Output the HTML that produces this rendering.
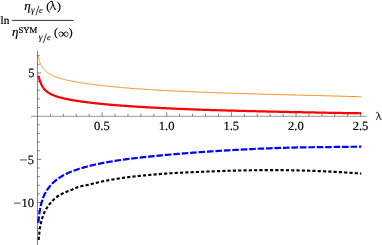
<!DOCTYPE html>
<html><head><meta charset="utf-8"><title>plot</title>
<style>
html,body{margin:0;padding:0;background:#fff;}
body{width:382px;height:245px;overflow:hidden;font-family:"Liberation Serif",serif;}
svg{display:block;position:absolute;left:0;top:0;will-change:transform;}
text{font-family:"Liberation Serif",serif;fill:#000;text-rendering:geometricPrecision;}
.it{font-style:italic;}
</style></head><body>
<svg width="382" height="245" viewBox="0 0 382 245">
<rect width="382" height="245" fill="#fff"/>
<g fill="none">
<path d="M38.15 56.27 L38.25 56.74 L38.35 57.23 L38.47 57.71 L38.58 58.21 L38.71 58.70 L38.84 59.20 L38.98 59.69 L39.13 60.19 L39.28 60.68 L39.44 61.16 L39.60 61.64 L39.77 62.11 L39.95 62.58 L40.14 63.04 L40.33 63.49 L40.53 63.93 L40.73 64.37 L40.94 64.80 L41.16 65.22 L41.38 65.63 L41.61 66.04 L41.85 66.43 L42.10 66.82 L42.35 67.20 L42.60 67.57 L42.87 67.94 L43.14 68.29 L43.42 68.64 L43.70 68.99 L43.99 69.32 L44.29 69.65 L44.59 69.97 L44.90 70.29 L45.22 70.60 L45.54 70.90 L45.87 71.20 L46.21 71.49 L46.55 71.77 L46.90 72.05 L47.25 72.32 L47.62 72.59 L47.99 72.85 L48.36 73.11 L48.75 73.36 L49.13 73.61 L49.53 73.86 L49.93 74.10 L50.34 74.33 L50.76 74.56 L51.18 74.79 L51.61 75.01 L52.04 75.23 L52.48 75.44 L52.93 75.65 L53.39 75.86 L53.85 76.07 L54.32 76.27 L54.79 76.46 L55.27 76.66 L55.76 76.85 L56.26 77.04 L56.76 77.22 L57.26 77.41 L57.78 77.59 L58.30 77.76 L58.83 77.94 L59.36 78.11 L59.90 78.28 L60.45 78.45 L61.00 78.61 L61.56 78.77 L62.13 78.94 L62.70 79.09 L63.28 79.25 L63.87 79.41 L64.46 79.56 L65.06 79.71 L65.67 79.86 L66.28 80.00 L66.90 80.15 L67.53 80.29 L68.16 80.44 L68.80 80.58 L69.45 80.72 L70.10 80.85 L70.76 80.99 L71.42 81.13 L72.10 81.26 L72.78 81.40 L73.46 81.53 L74.15 81.66 L74.85 81.79 L75.56 81.92 L76.27 82.05 L76.99 82.17 L77.71 82.30 L78.44 82.42 L79.18 82.54 L79.93 82.67 L80.68 82.79 L81.44 82.91 L82.20 83.03 L82.97 83.15 L83.75 83.26 L84.53 83.38 L85.32 83.50 L86.12 83.61 L86.93 83.72 L87.74 83.84 L88.55 83.95 L89.38 84.06 L90.21 84.17 L91.05 84.28 L91.89 84.39 L92.74 84.50 L93.60 84.61 L94.46 84.72 L95.33 84.83 L96.21 84.93 L97.09 85.04 L97.98 85.14 L98.88 85.25 L99.78 85.35 L100.69 85.46 L101.60 85.56 L102.53 85.66 L103.46 85.76 L104.39 85.86 L105.33 85.96 L106.28 86.06 L107.24 86.16 L108.20 86.26 L109.17 86.36 L110.15 86.46 L111.13 86.55 L112.12 86.65 L113.11 86.75 L114.11 86.84 L115.12 86.94 L116.14 87.03 L117.16 87.13 L118.19 87.22 L119.22 87.32 L120.26 87.41 L121.31 87.50 L122.36 87.59 L123.42 87.68 L124.49 87.78 L125.57 87.87 L126.65 87.96 L127.73 88.05 L128.83 88.14 L129.93 88.23 L131.04 88.32 L132.15 88.40 L133.27 88.49 L134.40 88.58 L135.53 88.66 L136.67 88.74 L137.82 88.82 L138.97 88.90 L140.13 88.98 L141.30 89.06 L142.47 89.14 L143.65 89.21 L144.84 89.29 L146.03 89.37 L147.23 89.44 L148.43 89.52 L149.65 89.59 L150.86 89.67 L152.09 89.74 L153.32 89.82 L154.56 89.89 L155.81 89.96 L157.06 90.04 L158.32 90.11 L159.58 90.18 L160.86 90.25 L162.13 90.32 L163.42 90.39 L164.71 90.46 L166.01 90.53 L167.31 90.60 L168.62 90.67 L169.94 90.74 L171.27 90.80 L172.60 90.87 L173.94 90.94 L175.28 91.00 L176.63 91.07 L177.99 91.13 L179.35 91.20 L180.72 91.26 L182.10 91.33 L183.48 91.39 L184.87 91.45 L186.27 91.51 L187.67 91.58 L189.08 91.64 L190.50 91.70 L191.93 91.76 L193.35 91.82 L194.79 91.88 L196.23 91.94 L197.68 92.00 L199.14 92.06 L200.60 92.12 L202.07 92.18 L203.55 92.23 L205.03 92.29 L206.52 92.35 L208.02 92.41 L209.52 92.47 L211.03 92.53 L212.54 92.58 L214.07 92.64 L215.59 92.70 L217.13 92.75 L218.67 92.81 L220.22 92.86 L221.78 92.92 L223.34 92.97 L224.91 93.02 L226.48 93.08 L228.06 93.13 L229.65 93.18 L231.24 93.24 L232.85 93.29 L234.45 93.34 L236.07 93.39 L237.69 93.44 L239.32 93.49 L240.95 93.54 L242.59 93.59 L244.24 93.64 L245.89 93.69 L247.55 93.74 L249.22 93.79 L250.89 93.84 L252.57 93.89 L254.26 93.94 L255.95 93.98 L257.65 94.03 L259.36 94.08 L261.07 94.13 L262.79 94.17 L264.52 94.22 L266.25 94.27 L267.99 94.32 L269.74 94.36 L271.49 94.41 L273.25 94.46 L275.02 94.50 L276.79 94.55 L278.57 94.59 L280.35 94.64 L282.15 94.69 L283.94 94.73 L285.75 94.78 L287.56 94.82 L289.38 94.87 L291.21 94.92 L293.04 94.96 L294.88 95.01 L296.72 95.05 L298.57 95.10 L300.43 95.15 L302.30 95.19 L304.17 95.24 L306.04 95.29 L307.93 95.34 L309.82 95.38 L311.72 95.43 L313.62 95.48 L315.53 95.53 L317.45 95.58 L319.37 95.62 L321.30 95.67 L323.24 95.72 L325.19 95.77 L327.14 95.82 L329.09 95.88 L331.06 95.93 L333.03 95.98 L335.00 96.03 L336.99 96.08 L338.98 96.14 L340.97 96.19 L342.98 96.25 L344.99 96.30 L347.00 96.36 L349.02 96.42 L351.05 96.48 L353.09 96.53 L355.13 96.59 L357.18 96.65 L359.24 96.72 L361.30 96.78" stroke="#ff8306" stroke-width="0.92"/>
<path d="M38.55 75.85 L38.67 76.34 L38.80 76.85 L38.93 77.38 L39.08 77.93 L39.22 78.47 L39.38 79.02 L39.54 79.58 L39.71 80.13 L39.88 80.67 L40.06 81.21 L40.25 81.74 L40.44 82.27 L40.64 82.78 L40.84 83.29 L41.05 83.78 L41.27 84.26 L41.50 84.73 L41.73 85.19 L41.97 85.64 L42.21 86.08 L42.46 86.50 L42.72 86.91 L42.98 87.32 L43.25 87.71 L43.53 88.09 L43.81 88.46 L44.10 88.82 L44.40 89.17 L44.70 89.51 L45.01 89.84 L45.32 90.16 L45.64 90.47 L45.97 90.77 L46.30 91.07 L46.64 91.35 L46.99 91.63 L47.34 91.91 L47.70 92.17 L48.07 92.43 L48.44 92.68 L48.82 92.92 L49.21 93.16 L49.60 93.40 L50.00 93.62 L50.40 93.84 L50.81 94.06 L51.23 94.27 L51.66 94.48 L52.09 94.68 L52.52 94.88 L52.97 95.07 L53.42 95.26 L53.87 95.45 L54.33 95.63 L54.80 95.81 L55.28 95.98 L55.76 96.15 L56.25 96.32 L56.74 96.49 L57.25 96.65 L57.75 96.81 L58.27 96.96 L58.79 97.12 L59.31 97.27 L59.85 97.42 L60.39 97.57 L60.93 97.71 L61.49 97.85 L62.04 98.00 L62.61 98.13 L63.18 98.27 L63.76 98.41 L64.34 98.54 L64.94 98.67 L65.53 98.80 L66.14 98.93 L66.75 99.06 L67.36 99.19 L67.99 99.31 L68.62 99.43 L69.25 99.56 L69.90 99.68 L70.55 99.80 L71.20 99.92 L71.86 100.03 L72.53 100.15 L73.21 100.27 L73.89 100.38 L74.57 100.49 L75.27 100.61 L75.97 100.72 L76.67 100.83 L77.39 100.94 L78.11 101.05 L78.83 101.16 L79.57 101.26 L80.30 101.37 L81.05 101.48 L81.80 101.58 L82.56 101.69 L83.32 101.79 L84.10 101.89 L84.87 102.00 L85.66 102.10 L86.45 102.20 L87.24 102.30 L88.05 102.40 L88.86 102.50 L89.67 102.60 L90.50 102.69 L91.32 102.79 L92.16 102.89 L93.00 102.98 L93.85 103.08 L94.70 103.17 L95.56 103.27 L96.43 103.36 L97.31 103.45 L98.19 103.55 L99.07 103.64 L99.97 103.73 L100.87 103.82 L101.77 103.91 L102.68 104.00 L103.60 104.09 L104.53 104.18 L105.46 104.26 L106.40 104.35 L107.34 104.44 L108.29 104.52 L109.25 104.61 L110.21 104.70 L111.18 104.78 L112.16 104.86 L113.14 104.95 L114.13 105.03 L115.13 105.11 L116.13 105.19 L117.14 105.28 L118.16 105.36 L119.18 105.44 L120.21 105.52 L121.24 105.59 L122.28 105.67 L123.33 105.75 L124.38 105.83 L125.44 105.90 L126.51 105.98 L127.58 106.06 L128.66 106.13 L129.75 106.21 L130.84 106.28 L131.94 106.35 L133.04 106.43 L134.15 106.50 L135.27 106.57 L136.40 106.64 L137.53 106.71 L138.66 106.78 L139.81 106.85 L140.96 106.92 L142.12 106.99 L143.28 107.06 L144.45 107.13 L145.62 107.19 L146.81 107.26 L147.99 107.33 L149.19 107.39 L150.39 107.46 L151.60 107.53 L152.81 107.59 L154.03 107.66 L155.26 107.72 L156.49 107.79 L157.73 107.85 L158.98 107.92 L160.23 107.98 L161.49 108.05 L162.76 108.11 L164.03 108.17 L165.31 108.23 L166.60 108.29 L167.89 108.36 L169.18 108.42 L170.49 108.48 L171.80 108.54 L173.12 108.60 L174.44 108.65 L175.77 108.71 L177.11 108.77 L178.45 108.83 L179.80 108.89 L181.15 108.94 L182.52 109.00 L183.89 109.06 L185.26 109.11 L186.64 109.17 L188.03 109.22 L189.42 109.28 L190.82 109.33 L192.23 109.39 L193.65 109.44 L195.07 109.49 L196.49 109.55 L197.92 109.60 L199.36 109.65 L200.81 109.70 L202.26 109.75 L203.72 109.80 L205.19 109.84 L206.66 109.89 L208.13 109.94 L209.62 109.98 L211.11 110.03 L212.61 110.07 L214.11 110.12 L215.62 110.17 L217.14 110.21 L218.66 110.25 L220.19 110.30 L221.72 110.34 L223.27 110.39 L224.81 110.43 L226.37 110.47 L227.93 110.52 L229.50 110.56 L231.07 110.60 L232.65 110.65 L234.24 110.69 L235.83 110.73 L237.43 110.77 L239.04 110.82 L240.65 110.86 L242.27 110.90 L243.90 110.94 L245.53 110.98 L247.17 111.02 L248.81 111.06 L250.46 111.10 L252.12 111.15 L253.79 111.19 L255.46 111.23 L257.13 111.27 L258.82 111.31 L260.51 111.35 L262.20 111.39 L263.91 111.43 L265.61 111.47 L267.33 111.51 L269.05 111.54 L270.78 111.58 L272.52 111.62 L274.26 111.66 L276.00 111.70 L277.76 111.74 L279.52 111.78 L281.29 111.82 L283.06 111.86 L284.84 111.89 L286.63 111.93 L288.42 111.97 L290.22 112.01 L292.02 112.05 L293.83 112.09 L295.65 112.12 L297.48 112.16 L299.31 112.20 L301.15 112.24 L302.99 112.27 L304.84 112.31 L306.70 112.35 L308.56 112.38 L310.43 112.42 L312.31 112.46 L314.19 112.49 L316.08 112.53 L317.97 112.57 L319.88 112.60 L321.78 112.64 L323.70 112.67 L325.62 112.71 L327.55 112.75 L329.48 112.78 L331.42 112.81 L333.37 112.85 L335.32 112.88 L337.28 112.91 L339.25 112.94 L341.22 112.98 L343.20 113.01 L345.19 113.04 L347.18 113.07 L349.18 113.10 L351.18 113.13 L353.19 113.16 L355.21 113.19 L357.23 113.22 L359.26 113.25 L361.30 113.28" stroke="#ff0000" stroke-width="2.25" stroke-linejoin="round"/>
<path d="M38.36 222.86 L38.47 221.51 L38.59 220.19 L38.71 218.91 L38.84 217.67 L38.98 216.46 L39.12 215.28 L39.27 214.14 L39.43 213.03 L39.59 211.95 L39.76 210.90 L39.94 209.88 L40.12 208.88 L40.31 207.91 L40.51 206.96 L40.71 206.03 L40.92 205.13 L41.14 204.25 L41.36 203.38 L41.59 202.54 L41.82 201.72 L42.07 200.92 L42.31 200.13 L42.57 199.36 L42.83 198.61 L43.10 197.87 L43.37 197.15 L43.65 196.44 L43.94 195.75 L44.23 195.10 L44.53 194.48 L44.84 193.87 L45.15 193.27 L45.47 192.69 L45.80 192.12 L46.13 191.56 L46.47 191.02 L46.82 190.48 L47.17 189.96 L47.53 189.45 L47.89 188.95 L48.26 188.43 L48.64 187.90 L49.03 187.38 L49.42 186.87 L49.82 186.37 L50.22 185.87 L50.63 185.39 L51.05 184.91 L51.47 184.44 L51.90 183.98 L52.34 183.53 L52.78 183.08 L53.23 182.65 L53.69 182.22 L54.15 181.79 L54.62 181.38 L55.10 180.97 L55.58 180.56 L56.07 180.17 L56.56 179.78 L57.06 179.39 L57.57 179.01 L58.09 178.64 L58.61 178.28 L59.13 177.91 L59.67 177.56 L60.21 177.21 L60.76 176.86 L61.31 176.53 L61.87 176.19 L62.44 175.86 L63.01 175.54 L63.59 175.22 L64.18 174.90 L64.77 174.59 L65.37 174.29 L65.97 173.98 L66.59 173.69 L67.20 173.39 L67.83 173.11 L68.46 172.82 L69.10 172.54 L69.74 172.26 L70.40 171.99 L71.05 171.72 L71.72 171.46 L72.39 171.19 L73.06 170.94 L73.75 170.68 L74.44 170.43 L75.14 170.18 L75.84 169.94 L76.55 169.69 L77.26 169.45 L77.99 169.22 L78.72 168.99 L79.45 168.76 L80.19 168.53 L80.94 168.29 L81.70 168.06 L82.46 167.84 L83.23 167.61 L84.00 167.39 L84.78 167.17 L85.57 166.95 L86.36 166.73 L87.17 166.52 L87.97 166.31 L88.79 166.10 L89.61 165.90 L90.43 165.69 L91.27 165.49 L92.11 165.29 L92.95 165.09 L93.80 164.89 L94.66 164.70 L95.53 164.51 L96.40 164.31 L97.28 164.13 L98.16 163.94 L99.06 163.75 L99.95 163.57 L100.86 163.38 L101.77 163.20 L102.69 163.02 L103.61 162.85 L104.54 162.67 L105.48 162.49 L106.42 162.32 L107.37 162.15 L108.33 161.98 L109.29 161.81 L110.26 161.64 L111.24 161.47 L112.22 161.30 L113.21 161.14 L114.21 160.98 L115.21 160.82 L116.22 160.66 L117.23 160.51 L118.25 160.37 L119.28 160.22 L120.32 160.07 L121.36 159.92 L122.40 159.78 L123.46 159.64 L124.52 159.49 L125.59 159.35 L126.66 159.21 L127.74 159.07 L128.83 158.93 L129.92 158.79 L131.02 158.65 L132.13 158.52 L133.24 158.38 L134.36 158.25 L135.48 158.11 L136.61 157.98 L137.75 157.85 L138.90 157.71 L140.05 157.58 L141.21 157.45 L142.37 157.32 L143.54 157.19 L144.72 157.06 L145.91 156.94 L147.10 156.81 L148.29 156.68 L149.50 156.56 L150.71 156.43 L151.92 156.31 L153.15 156.18 L154.38 156.06 L155.61 155.93 L156.85 155.81 L158.10 155.69 L159.36 155.57 L160.62 155.45 L161.89 155.33 L163.16 155.21 L164.45 155.09 L165.73 154.97 L167.03 154.85 L168.33 154.73 L169.64 154.62 L170.95 154.50 L172.27 154.38 L173.60 154.27 L174.93 154.15 L176.27 154.04 L177.62 153.92 L178.97 153.81 L180.33 153.70 L181.70 153.58 L183.07 153.47 L184.45 153.36 L185.83 153.25 L187.23 153.14 L188.63 153.03 L190.03 152.92 L191.44 152.81 L192.86 152.70 L194.28 152.59 L195.72 152.49 L197.15 152.38 L198.60 152.27 L200.05 152.17 L201.50 152.06 L202.97 151.96 L204.44 151.85 L205.91 151.75 L207.40 151.65 L208.89 151.55 L210.38 151.45 L211.89 151.34 L213.39 151.24 L214.91 151.15 L216.43 151.05 L217.96 150.95 L219.50 150.85 L221.04 150.76 L222.59 150.66 L224.14 150.56 L225.70 150.47 L227.27 150.38 L228.84 150.28 L230.42 150.19 L232.01 150.10 L233.60 150.01 L235.20 149.92 L236.81 149.83 L238.42 149.75 L240.04 149.66 L241.67 149.57 L243.30 149.49 L244.94 149.40 L246.59 149.32 L248.24 149.24 L249.90 149.16 L251.56 149.08 L253.23 149.00 L254.91 148.92 L256.60 148.85 L258.29 148.77 L259.98 148.70 L261.69 148.63 L263.40 148.55 L265.12 148.48 L266.84 148.41 L268.57 148.35 L270.31 148.28 L272.05 148.22 L273.80 148.15 L275.55 148.09 L277.32 148.03 L279.09 147.97 L280.86 147.91 L282.64 147.85 L284.43 147.80 L286.23 147.75 L288.03 147.69 L289.84 147.64 L291.65 147.60 L293.47 147.55 L295.30 147.50 L297.13 147.46 L298.97 147.42 L300.82 147.38 L302.67 147.35 L304.53 147.32 L306.40 147.30 L308.27 147.27 L310.15 147.25 L312.04 147.23 L313.93 147.21 L315.83 147.19 L317.74 147.17 L319.65 147.16 L321.57 147.15 L323.49 147.14 L325.42 147.14 L327.36 147.11 L329.30 147.07 L331.26 147.03 L333.21 147.00 L335.18 146.97 L337.15 146.94 L339.12 146.91 L341.11 146.88 L343.10 146.86 L345.09 146.84 L347.10 146.81 L349.11 146.79 L351.12 146.77 L353.15 146.75 L355.17 146.74 L357.21 146.72 L359.25 146.71 L361.30 146.71" stroke="#0000ff" stroke-width="2.2" stroke-dasharray="6.6 1.85" stroke-linejoin="round"/>
<path d="M38.70 240.00 L38.74 239.11 L38.80 238.22 L38.87 237.33 L38.96 236.44 L39.05 235.55 L39.16 234.66 L39.26 233.78 L39.36 232.89 L39.45 232.00 L39.54 231.11 L39.64 230.22 L39.75 229.34 L39.88 228.45 L40.02 227.57 L40.18 226.69 L40.36 225.82 L40.55 224.94 L40.74 224.07 L40.95 223.20 L41.16 222.33 L41.37 221.47 L41.59 220.60 L41.82 219.74 L42.06 218.88 L42.31 218.02 L42.58 217.17 L42.86 216.32 L43.15 215.48 L43.47 214.64 L43.80 213.81 L44.15 212.99 L44.52 212.18 L44.91 211.37 L45.32 210.58 L45.75 209.79 L46.19 209.02 L46.65 208.25 L47.13 207.50 L47.62 206.75 L48.13 206.02 L48.66 205.29 L49.19 204.58 L49.75 203.87 L50.31 203.18 L50.89 202.50 L51.48 201.83 L52.09 201.18 L52.71 200.54 L53.35 199.91 L54.00 199.29 L54.66 198.70 L55.34 198.12 L56.04 197.55 L56.75 197.01 L57.47 196.49 L58.21 195.99 L58.97 195.51 L59.73 195.04 L60.51 194.60 L61.29 194.17 L62.09 193.76 L62.89 193.36 L63.69 192.98 L64.51 192.60 L65.32 192.25 L66.15 191.90 L66.98 191.57 L67.81 191.24 L68.64 190.93 L69.48 190.62 L70.31 190.30 L71.15 189.98 L71.98 189.65 L72.80 189.30 L73.63 188.94 L74.45 188.58 L75.26 188.22 L76.09 187.86 L76.91 187.52 L77.74 187.19 L78.58 186.89 L79.43 186.62 L80.28 186.39 L81.15 186.19 L82.02 186.01 L82.90 185.85 L83.79 185.70 L84.67 185.55 L85.55 185.40 L86.43 185.24 L87.31 185.06 L88.18 184.87 L89.06 184.67 L89.92 184.46 L90.79 184.25 L91.66 184.03 L92.52 183.80 L93.38 183.57 L94.25 183.35 L95.11 183.12 L95.98 182.90 L96.84 182.68 L97.71 182.47 L98.58 182.27 L99.45 182.07 L100.32 181.88 L101.20 181.68 L102.07 181.49 L102.95 181.31 L103.83 181.13 L104.71 180.96 L105.59 180.79 L106.47 180.62 L107.35 180.46 L108.23 180.30 L109.11 180.15 L110.00 179.99 L110.88 179.84 L111.76 179.68 L112.65 179.53 L113.53 179.38 L114.41 179.23 L115.29 179.08 L116.18 178.93 L117.06 178.78 L117.94 178.64 L118.83 178.49 L119.71 178.35 L120.60 178.21 L121.48 178.07 L122.37 177.94 L123.25 177.80 L124.14 177.67 L125.02 177.54 L125.91 177.43 L126.79 177.32 L127.68 177.21 L128.57 177.11 L129.45 177.00 L130.34 176.90 L131.23 176.79 L132.11 176.69 L133.00 176.59 L133.89 176.50 L134.78 176.40 L135.66 176.30 L136.55 176.21 L137.44 176.11 L138.33 176.02 L139.22 175.93 L140.10 175.84 L140.99 175.75 L141.88 175.66 L142.77 175.57 L143.66 175.48 L144.55 175.40 L145.44 175.31 L146.33 175.23 L147.21 175.14 L148.10 175.06 L148.99 174.98 L149.88 174.90 L150.77 174.82 L151.66 174.74 L152.55 174.66 L153.44 174.59 L154.33 174.51 L155.22 174.44 L156.11 174.36 L157.00 174.29 L157.89 174.22 L158.78 174.14 L159.67 174.07 L160.56 174.00 L161.45 173.93 L162.34 173.86 L163.23 173.79 L164.12 173.73 L165.01 173.66 L165.90 173.59 L166.79 173.53 L167.68 173.46 L168.57 173.40 L169.46 173.33 L170.36 173.28 L171.25 173.22 L172.14 173.17 L173.03 173.12 L173.92 173.07 L174.81 173.02 L175.70 172.98 L176.59 172.93 L177.48 172.88 L178.37 172.83 L179.27 172.79 L180.16 172.74 L181.05 172.70 L181.94 172.65 L182.83 172.61 L183.72 172.57 L184.61 172.53 L185.50 172.48 L186.40 172.44 L187.29 172.40 L188.18 172.36 L189.07 172.32 L189.96 172.28 L190.85 172.24 L191.74 172.21 L192.64 172.17 L193.53 172.13 L194.42 172.10 L195.31 172.06 L196.20 172.02 L197.10 171.99 L197.99 171.96 L198.88 171.92 L199.77 171.89 L200.66 171.85 L201.55 171.81 L202.45 171.76 L203.34 171.72 L204.23 171.68 L205.12 171.64 L206.01 171.60 L206.91 171.57 L207.80 171.53 L208.69 171.49 L209.58 171.45 L210.48 171.41 L211.37 171.38 L212.26 171.34 L213.15 171.31 L214.04 171.27 L214.94 171.24 L215.83 171.20 L216.72 171.17 L217.61 171.14 L218.51 171.11 L219.40 171.07 L220.29 171.04 L221.18 171.01 L222.08 170.98 L222.97 170.95 L223.86 170.92 L224.75 170.90 L225.65 170.87 L226.54 170.84 L227.43 170.81 L228.32 170.79 L229.22 170.76 L230.11 170.73 L231.00 170.71 L231.89 170.68 L232.79 170.66 L233.68 170.64 L234.57 170.61 L235.46 170.59 L236.36 170.57 L237.25 170.55 L238.14 170.53 L239.04 170.51 L239.93 170.49 L240.82 170.47 L241.71 170.45 L242.61 170.43 L243.50 170.41 L244.39 170.40 L245.29 170.38 L246.18 170.36 L247.07 170.35 L247.96 170.33 L248.86 170.32 L249.75 170.31 L250.64 170.29 L251.54 170.28 L252.43 170.27 L253.32 170.26 L254.21 170.24 L255.11 170.23 L256.00 170.22 L256.89 170.21 L257.79 170.21 L258.68 170.20 L259.57 170.19 L260.46 170.18 L261.36 170.18 L262.25 170.17 L263.14 170.16 L264.04 170.16 L264.93 170.15 L265.82 170.15 L266.72 170.15 L267.61 170.14 L268.50 170.14 L269.40 170.14 L270.29 170.14 L271.18 170.14 L272.07 170.14 L272.97 170.14 L273.86 170.14 L274.75 170.14 L275.65 170.15 L276.54 170.15 L277.43 170.15 L278.33 170.16 L279.22 170.16 L280.11 170.17 L281.00 170.17 L281.90 170.18 L282.79 170.19 L283.68 170.20 L284.58 170.21 L285.47 170.22 L286.36 170.22 L287.26 170.24 L288.15 170.25 L289.04 170.26 L289.93 170.27 L290.83 170.29 L291.72 170.30 L292.61 170.32 L293.51 170.33 L294.40 170.35 L295.29 170.37 L296.18 170.39 L297.08 170.41 L297.97 170.43 L298.86 170.45 L299.76 170.47 L300.65 170.49 L301.54 170.51 L302.43 170.53 L303.33 170.56 L304.22 170.58 L305.11 170.61 L306.01 170.63 L306.90 170.66 L307.79 170.69 L308.68 170.71 L309.58 170.74 L310.47 170.77 L311.36 170.80 L312.25 170.83 L313.15 170.86 L314.04 170.89 L314.93 170.93 L315.83 170.96 L316.72 170.99 L317.61 171.03 L318.50 171.06 L319.40 171.10 L320.29 171.14 L321.18 171.17 L322.07 171.21 L322.96 171.25 L323.86 171.29 L324.75 171.33 L325.64 171.37 L326.53 171.41 L327.43 171.45 L328.32 171.50 L329.21 171.54 L330.10 171.59 L330.99 171.63 L331.89 171.68 L332.78 171.72 L333.67 171.77 L334.56 171.82 L335.45 171.87 L336.35 171.92 L337.24 171.97 L338.13 172.02 L339.02 172.07 L339.91 172.12 L340.81 172.17 L341.70 172.23 L342.59 172.28 L343.48 172.34 L344.37 172.39 L345.26 172.45 L346.15 172.51 L347.05 172.57 L347.94 172.63 L348.83 172.69 L349.72 172.75 L350.61 172.81 L351.50 172.87 L352.39 172.94 L353.28 173.00 L354.17 173.07 L355.06 173.13 L355.96 173.20 L356.85 173.27 L357.74 173.34 L358.63 173.40 L359.52 173.47 L360.41 173.54 L361.30 173.61" stroke="#000" stroke-width="2.15" stroke-dasharray="3.2 2.1" stroke-linejoin="round"/>
<g stroke="#000" stroke-width="0.48">
<path d="M30.8 116.3 H367" stroke-width="0.42"/>
<path d="M37.5 50.7 V245"/>
<path d="M50.38 116.15 V113.75 M63.31 116.15 V113.75 M76.24 116.15 V113.75 M89.17 116.15 V113.75 M102.10 116.15 V112.15 M115.03 116.15 V113.75 M127.96 116.15 V113.75 M140.89 116.15 V113.75 M153.82 116.15 V113.75 M166.75 116.15 V112.15 M179.68 116.15 V113.75 M192.61 116.15 V113.75 M205.54 116.15 V113.75 M218.47 116.15 V113.75 M231.40 116.15 V112.15 M244.33 116.15 V113.75 M257.26 116.15 V113.75 M270.19 116.15 V113.75 M283.12 116.15 V113.75 M296.05 116.15 V112.15 M308.98 116.15 V113.75 M321.91 116.15 V113.75 M334.84 116.15 V113.75 M347.77 116.15 V113.75 M360.70 116.15 V112.15 M37.45 237.11 H39.85 M37.45 228.47 H39.85 M37.45 219.83 H39.85 M37.45 211.19 H39.85 M37.45 202.55 H41.45 M37.45 193.91 H39.85 M37.45 185.27 H39.85 M37.45 176.63 H39.85 M37.45 167.99 H39.85 M37.45 159.35 H41.45 M37.45 150.71 H39.85 M37.45 142.07 H39.85 M37.45 133.43 H39.85 M37.45 124.79 H39.85 M37.45 107.51 H39.85 M37.45 98.87 H39.85 M37.45 90.23 H39.85 M37.45 81.59 H39.85 M37.45 72.95 H41.45 M37.45 64.31 H39.85 M37.45 55.67 H39.85"/>
</g>
</g>
<g font-size="12.5" stroke="#000" stroke-width="0.18"><text x="101.9" y="129.9" text-anchor="middle">0.5</text><text x="166.6" y="129.9" text-anchor="middle">1.0</text><text x="231.2" y="129.9" text-anchor="middle">1.5</text><text x="295.9" y="129.9" text-anchor="middle">2.0</text><text x="360.5" y="129.9" text-anchor="middle">2.5</text><text x="34.0" y="163.5" text-anchor="end">5</text><text x="34.0" y="206.7" text-anchor="end">10</text><text x="34.4" y="77.2" text-anchor="end">5</text><path d="M20.0 159.95 H26.9 M14.0 203.1 H20.9" stroke="#000" stroke-width="0.7" fill="none"/>
<g transform="translate(376.0 119.9) scale(1)" fill="none" stroke="#000" stroke-linecap="round" stroke-linejoin="round"><path d="M0.5 -7.3 Q1.5 -8.3 2.2 -7.0 L4.2 -1.0 Q4.6 0 5.4 -0.6" stroke-width="0.95"/><path d="M2.75 -4.9 L0.3 -0.1" stroke-width="0.75"/></g>
</g>
<g id="lab" stroke="#000" stroke-width="0.22" paint-order="stroke">
<text x="0.6" y="23.6" font-size="11.3">ln</text>
<path d="M11.7 20.4 H73.7" stroke="#000" stroke-width="0.8"/>
<text x="24.2" y="9.75" font-size="13" class="it">η</text>
<text x="31.0" y="12.9" font-size="9.5" class="it" stroke-width="0.1">γ</text>
<path d="M35.9 15.2 L38.9 5.8" stroke="#000" stroke-width="0.8"/>
<text x="39.1" y="12.6" font-size="8.5" class="it" stroke-width="0.1">e</text>
<text x="46.2" y="9.6" font-size="11.7">(</text><g transform="translate(49.9 9.8) scale(1.1)" fill="none" stroke="#000" stroke-linecap="round" stroke-linejoin="round"><path d="M0.5 -7.3 Q1.5 -8.3 2.2 -7.0 L4.2 -1.0 Q4.6 0 5.4 -0.6" stroke-width="0.95"/><path d="M2.75 -4.9 L0.3 -0.1" stroke-width="0.75"/></g><text x="56.9" y="9.6" font-size="11.7">)</text>
<text x="11.9" y="36.0" font-size="13" class="it">η</text>
<text x="18.5" y="32.5" font-size="8.7">SYM</text>
<text x="38.7" y="40.0" font-size="9.5" class="it" stroke-width="0.1">γ</text>
<path d="M43.4 42.7 L46.5 33.7" stroke="#000" stroke-width="0.8"/>
<text x="47.1" y="39.8" font-size="8.5" class="it" stroke-width="0.1">e</text>
<text x="54.0" y="36.1" font-size="11.7">(</text>
<text x="0" y="0" font-size="13.6" transform="translate(58.0 37.7) scale(1.14 1)" stroke-width="0.05">∞</text>
<text x="68.7" y="36.1" font-size="11.7">)</text>
</g>
</svg>
</body></html>
